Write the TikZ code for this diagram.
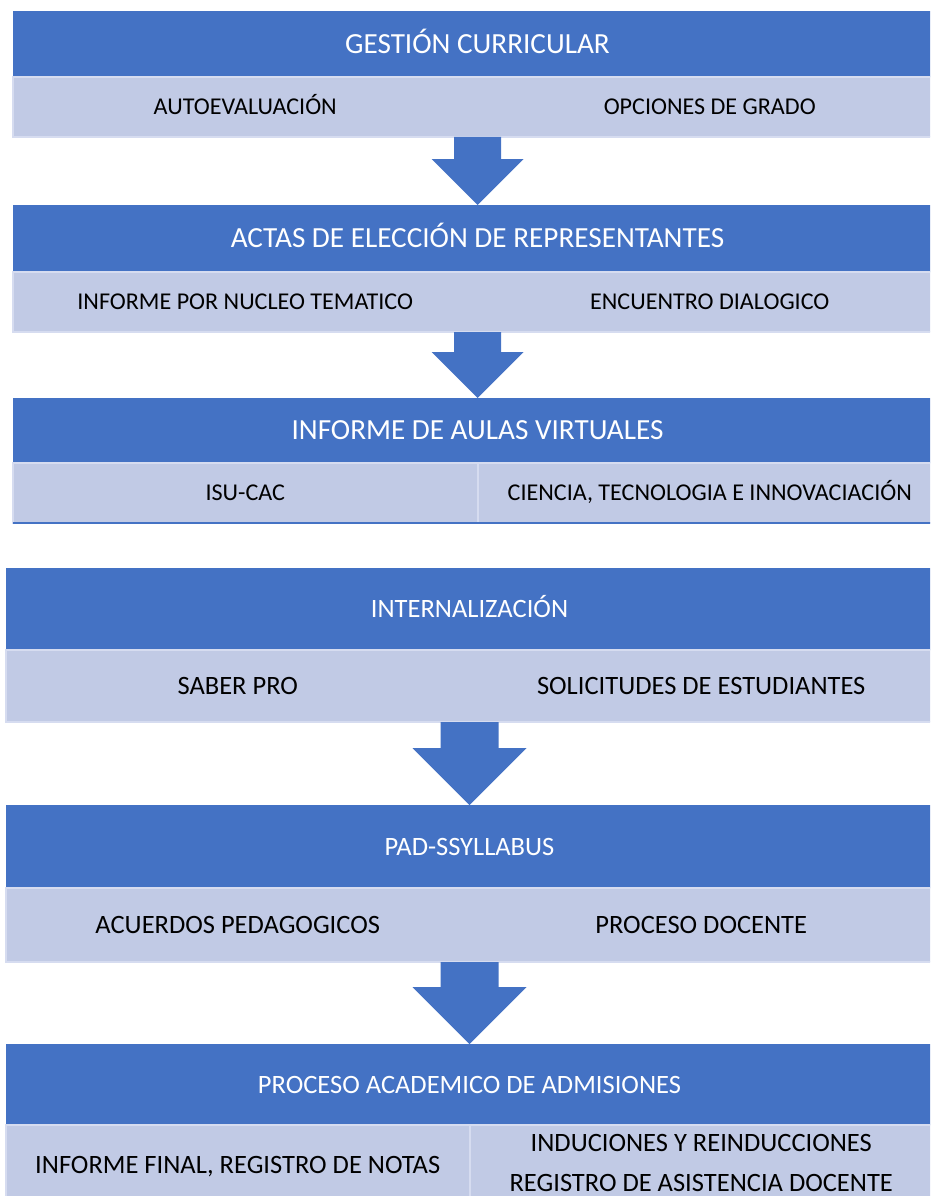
\documentclass[tikz,border=0pt]{standalone}
\usepackage{fontspec}
\setmainfont{Carlito}
\usetikzlibrary{calc,positioning}
\definecolor{headblue}{RGB}{68,114,196}
\definecolor{subfill}{RGB}{193,202,229}
\definecolor{subedge}{RGB}{214,220,240}

\begin{document}
\begin{tikzpicture}[
     x=1pt, y=1pt,
     % define styles
     header/.style={
         fill=headblue,
         text=white,
         anchor=north west,
         inner sep=0pt,
         outer sep=0pt,
         minimum width=929pt,
         text depth=0pt
     },
     band/.style={
         fill=subfill,
         draw=subedge,
         line width=2pt,
         inner sep=0pt,
         outer sep=0pt,
         minimum width=929pt
     },
     item/.style={
         text=black,
         inner sep=0pt,
         text depth=0pt
     },
     twoline/.style={
         text=black,
         inner sep=0pt,
         align=center,
         text height=,
         text depth=
     },
     divider/.style={
         draw=subedge,
         line width=2pt
     },
     blockarrow/.style={
         fill=headblue
     },
     bigtext/.style={font=\fontsize{29.2}{35}\selectfont, text height=18.8pt},
     midtext/.style={font=\fontsize{26.5}{40}\selectfont, text height=17.1pt},
     smalltext/.style={font=\fontsize{24.1}{29}\selectfont, text height=15.5pt}
]
% page size, blocks run past the right edge
\useasboundingbox (0,0) rectangle (930,-1196);
\clip (0,0) rectangle (930,-1196);

% first group of blocks
\node[header, bigtext, minimum height=66pt] (h1) at (13,-11) {GESTIÓN CURRICULAR};
\node[band, minimum height=60pt, below=0pt of h1] (s1) {};
\node[item, smalltext] (s1a) at ($(s1.west)!0.25!(s1.east)$) {AUTOEVALUACIÓN};
\node[item, smalltext] (s1b) at ($(s1.west)!0.75!(s1.east)$) {OPCIONES DE GRADO};

\node[header, bigtext, minimum height=67pt, anchor=north, below=68pt of s1] (h2) {ACTAS DE ELECCIÓN DE REPRESENTANTES};
\node[band, minimum height=60pt, below=0pt of h2] (s2) {};
\node[item, smalltext] (s2a) at ($(s2.west)!0.25!(s2.east)$) {INFORME POR NUCLEO TEMATICO};
\node[item, smalltext] (s2b) at ($(s2.west)!0.75!(s2.east)$) {ENCUENTRO DIALOGICO};

\node[header, bigtext, minimum height=65pt, anchor=north, below=66pt of s2] (h3) {INFORME DE AULAS VIRTUALES};
\node[band, minimum height=60pt, below=0pt of h3] (s3) {};
\draw[divider] (s3.north) -- (s3.south);
\draw[headblue, line width=2pt] (s3.south west) -- (s3.south east);
\node[item, smalltext] (s3a) at ($(s3.west)!0.25!(s3.east)$) {ISU-CAC};
\node[item, smalltext] (s3b) at ($(s3.west)!0.75!(s3.east)$) {CIENCIA, TECNOLOGIA E INNOVACIACIÓN};

% second group of blocks
\node[header, midtext, minimum width=927pt, minimum height=82pt] (h4) at (6,-568) {INTERNALIZACIÓN};
\node[band, minimum width=927pt, minimum height=72pt, below=0pt of h4] (s4) {};
\node[item, midtext] (s4a) at ($(s4.west)!0.25!(s4.east)$) {SABER PRO};
\node[item, midtext] (s4b) at ($(s4.west)!0.75!(s4.east)$) {SOLICITUDES DE ESTUDIANTES};

\node[header, midtext, minimum width=927pt, minimum height=83pt, anchor=north, below=83pt of s4] (h5) {PAD-SSYLLABUS};
\node[band, minimum width=927pt, minimum height=74pt, below=0pt of h5] (s5) {};
\node[item, midtext] (s5a) at ($(s5.west)!0.25!(s5.east)$) {ACUERDOS PEDAGOGICOS};
\node[item, midtext] (s5b) at ($(s5.west)!0.75!(s5.east)$) {PROCESO DOCENTE};

\node[header, midtext, minimum width=927pt, minimum height=81pt, anchor=north, below=82pt of s5] (h6) {PROCESO ACADEMICO DE ADMISIONES};
\node[band, minimum width=927pt, minimum height=80pt, below=0pt of h6] (s6) {};
\draw[divider] (s6.north) -- (s6.south);
\node[item, midtext] (s6a) at ($(s6.west)!0.25!(s6.east)$) {INFORME FINAL, REGISTRO DE NOTAS};
\node[midtext, twoline] (s6b) at ($(s6.west)!0.75!(s6.east)+(0,2)$) {INDUCIONES Y REINDUCCIONES\\REGISTRO DE ASISTENCIA DOCENTE};

% block arrows between the groups
\foreach \from/\to/\sw/\hw in {s1/h2/23.5/46, s2/h3/23.5/46, s4/h5/29/57, s5/h6/29/57}
    \fill[blockarrow] ($(\from.south)+(-\sw,0)$) -- ($(\to.north)+(-\sw,\hw)$)
        -- ($(\to.north)+(-\hw,\hw)$) -- (\to.north) -- ($(\to.north)+(\hw,\hw)$)
        -- ($(\to.north)+(\sw,\hw)$) -- ($(\from.south)+(\sw,0)$) -- cycle;
\end{tikzpicture}
\end{document}
